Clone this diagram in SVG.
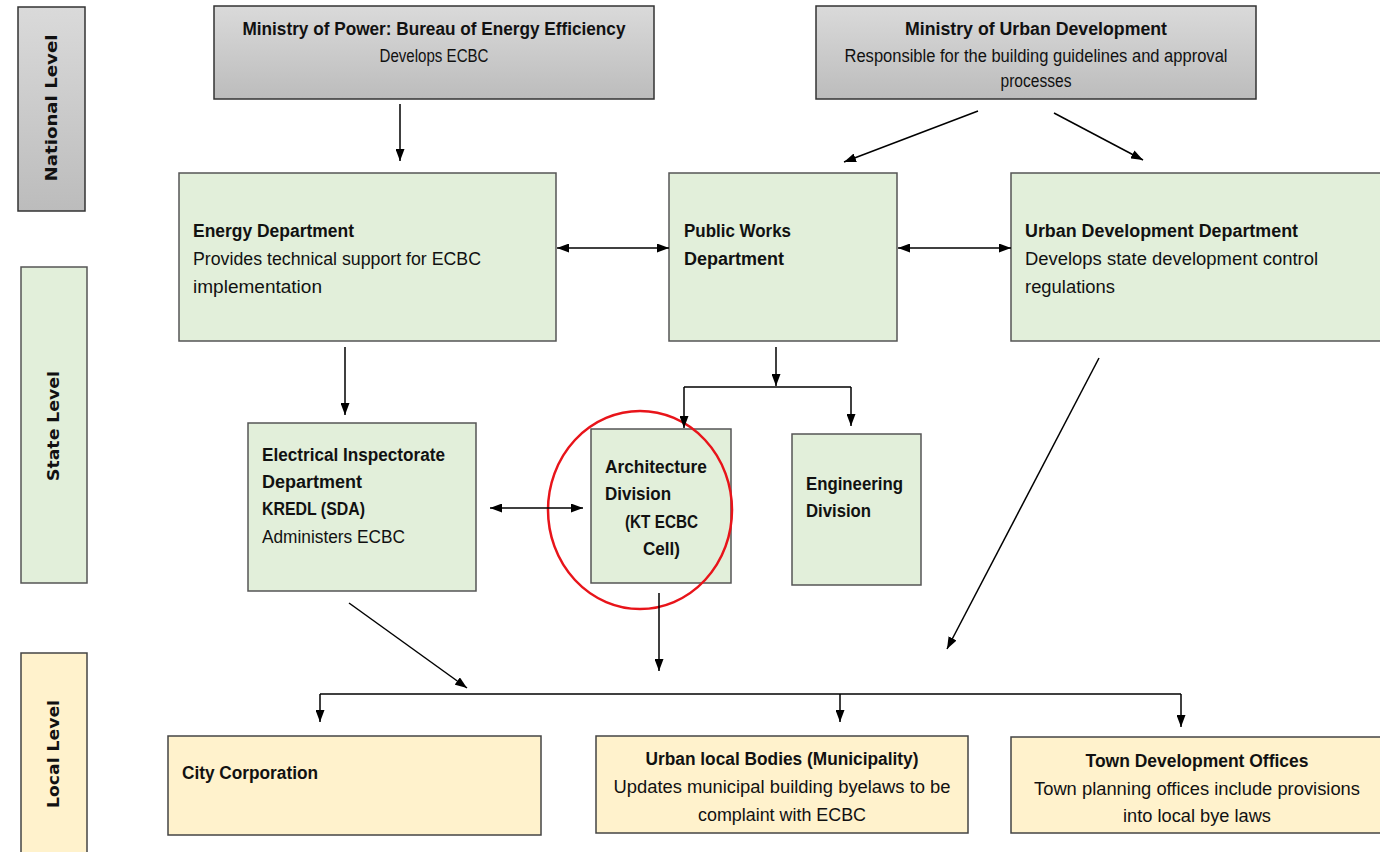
<svg xmlns="http://www.w3.org/2000/svg" width="1380" height="852" viewBox="0 0 1380 852">
<defs>
<linearGradient id="gray" x1="0" y1="0" x2="0" y2="1">
<stop offset="0" stop-color="#dadada"/>
<stop offset="1" stop-color="#bcbcbc"/>
</linearGradient>
<marker id="ah" viewBox="0 0 12 9" refX="12" refY="4.5" markerWidth="12" markerHeight="9" markerUnits="userSpaceOnUse" orient="auto-start-reverse">
<path d="M0,0 L12,4.5 L0,9 z" fill="#000"/>
</marker>
</defs>
<style>
.g{fill:url(#gray);stroke:#333;stroke-width:1.5}
.gr{fill:#e2efda;stroke:#555;stroke-width:1.5}
.y{fill:#fff2cc;stroke:#444;stroke-width:1.5}
text{font-family:"Liberation Sans",Arial,sans-serif;font-size:17.5px;fill:#111}
.b{font-weight:bold}
.m{text-anchor:middle}
.side{font-family:"DejaVu Sans",Verdana,sans-serif;font-weight:bold;font-size:15.5px;text-anchor:middle}
.c{fill:none;stroke:#000;stroke-width:1.5}
.a{marker-end:url(#ah)}
.a2{marker-start:url(#ah);marker-end:url(#ah)}
</style>
<rect width="1380" height="852" fill="#fff"/>

<g id="side-national">
<rect class="g" x="18" y="7" width="67" height="204"/>
<text class="side" transform="translate(57,108) rotate(-90)" textLength="147" lengthAdjust="spacingAndGlyphs">National Level</text>
</g>
<g id="side-state">
<rect class="gr" x="21" y="267" width="66" height="316"/>
<text class="side" transform="translate(59,426) rotate(-90)" textLength="110" lengthAdjust="spacingAndGlyphs">State Level</text>
</g>
<g id="side-local">
<rect class="y" x="21" y="653" width="66" height="210"/>
<text class="side" transform="translate(59,754) rotate(-90)" textLength="108" lengthAdjust="spacingAndGlyphs">Local Level</text>
</g>

<g id="mop">
<rect class="g" x="214" y="6" width="440" height="93"/>
<text class="b m" x="434" y="35" textLength="383" lengthAdjust="spacingAndGlyphs">Ministry of Power: Bureau of Energy Efficiency</text>
<text class="m" x="434" y="62" textLength="109" lengthAdjust="spacingAndGlyphs">Develops ECBC</text>
</g>
<g id="moud">
<rect class="g" x="816" y="6" width="440" height="93"/>
<text class="b m" x="1036" y="35" textLength="262" lengthAdjust="spacingAndGlyphs">Ministry of Urban Development</text>
<text class="m" x="1036" y="62" textLength="383" lengthAdjust="spacingAndGlyphs">Responsible for the building guidelines and approval</text>
<text class="m" x="1036" y="87" textLength="71" lengthAdjust="spacingAndGlyphs">processes</text>
</g>

<g id="energy">
<rect class="gr" x="179" y="173" width="377" height="168"/>
<text class="b" x="193" y="237" textLength="161" lengthAdjust="spacingAndGlyphs">Energy Department</text>
<text x="193" y="265" textLength="288" lengthAdjust="spacingAndGlyphs">Provides technical support for ECBC</text>
<text x="193" y="293" textLength="129" lengthAdjust="spacingAndGlyphs">implementation</text>
</g>
<g id="pwd">
<rect class="gr" x="669" y="173" width="228" height="168"/>
<text class="b" x="684" y="237" textLength="107" lengthAdjust="spacingAndGlyphs">Public Works</text>
<text class="b" x="684" y="265" textLength="100" lengthAdjust="spacingAndGlyphs">Department</text>
</g>
<g id="udd">
<rect class="gr" x="1011" y="173" width="380" height="168"/>
<text class="b" x="1025" y="237" textLength="273" lengthAdjust="spacingAndGlyphs">Urban Development Department</text>
<text x="1025" y="265" textLength="293" lengthAdjust="spacingAndGlyphs">Develops state development control</text>
<text x="1025" y="293" textLength="90" lengthAdjust="spacingAndGlyphs">regulations</text>
</g>

<g id="eid">
<rect class="gr" x="248" y="423" width="228" height="168"/>
<text class="b" x="262" y="461" textLength="183" lengthAdjust="spacingAndGlyphs">Electrical Inspectorate</text>
<text class="b" x="262" y="488" textLength="100" lengthAdjust="spacingAndGlyphs">Department</text>
<text class="b" x="262" y="515" textLength="103" lengthAdjust="spacingAndGlyphs">KREDL (SDA)</text>
<text x="262" y="543" textLength="143" lengthAdjust="spacingAndGlyphs">Administers ECBC</text>
</g>
<g id="arch">
<rect class="gr" x="591" y="429" width="140" height="154"/>
<text class="b" x="605" y="473" textLength="102" lengthAdjust="spacingAndGlyphs">Architecture</text>
<text class="b" x="605" y="500" textLength="66" lengthAdjust="spacingAndGlyphs">Division</text>
<text class="b" x="625" y="528" textLength="73" lengthAdjust="spacingAndGlyphs">(KT ECBC</text>
<text class="b" x="643" y="555" textLength="37" lengthAdjust="spacingAndGlyphs">Cell)</text>
<ellipse cx="640" cy="510" rx="92" ry="99" fill="none" stroke="#e8141a" stroke-width="2.5"/>
</g>
<g id="eng">
<rect class="gr" x="792" y="434" width="129" height="151"/>
<text class="b" x="806" y="490" textLength="97" lengthAdjust="spacingAndGlyphs">Engineering</text>
<text class="b" x="806" y="517" textLength="65" lengthAdjust="spacingAndGlyphs">Division</text>
</g>

<g id="city">
<rect class="y" x="168" y="736" width="373" height="99"/>
<text class="b" x="182" y="779" textLength="136" lengthAdjust="spacingAndGlyphs">City Corporation</text>
</g>
<g id="ulb">
<rect class="y" x="596" y="736" width="372" height="97"/>
<text class="b m" x="782" y="765" textLength="273" lengthAdjust="spacingAndGlyphs">Urban local Bodies (Municipality)</text>
<text class="m" x="782" y="793" textLength="337" lengthAdjust="spacingAndGlyphs">Updates municipal building byelaws to be</text>
<text class="m" x="782" y="821" textLength="168" lengthAdjust="spacingAndGlyphs">complaint with ECBC</text>
</g>
<g id="tdo">
<rect class="y" x="1011" y="737" width="380" height="96"/>
<text class="b m" x="1197" y="767" textLength="223" lengthAdjust="spacingAndGlyphs">Town Development Offices</text>
<text class="m" x="1197" y="795" textLength="326" lengthAdjust="spacingAndGlyphs">Town planning offices include provisions</text>
<text class="m" x="1197" y="822" textLength="148" lengthAdjust="spacingAndGlyphs">into local bye laws</text>
</g>

<g id="connectors">
<path class="c a" d="M400,104 L400,161"/>
<path class="c a" d="M978,111 L844,162"/>
<path class="c a" d="M1054,113 L1143,160"/>
<path class="c a2" d="M557,248 L669,248"/>
<path class="c a2" d="M898,248 L1011,248"/>
<path class="c a" d="M345,347 L345,415"/>
<path class="c a" d="M776,347 L776,386"/>
<path class="c" d="M684,387 L851,387"/>
<path class="c a" d="M684,387 L684,428"/>
<path class="c a" d="M851,387 L851,426"/>
<path class="c a2" d="M490,508 L583,508"/>
<path class="c a" d="M349,603 L467,688"/>
<path class="c a" d="M659,593 L659,671"/>
<path class="c a" d="M1099,358 L947,649"/>
<path class="c" d="M320,694 L1181,694"/>
<path class="c a" d="M320,694 L320,722"/>
<path class="c a" d="M840,694 L840,722"/>
<path class="c a" d="M1181,694 L1181,727"/>
</g>
</svg>
